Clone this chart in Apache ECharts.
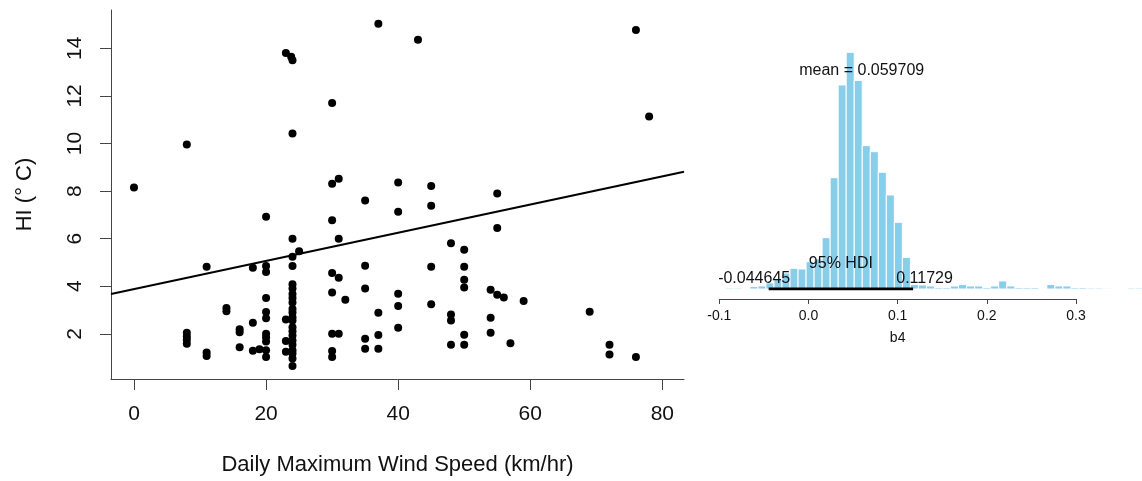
<!DOCTYPE html>
<html><head><meta charset="utf-8">
<script src="https://cdn.jsdelivr.net/npm/echarts@6.0.0/dist/echarts.min.js"></script>
<style>html,body{margin:0;padding:0;background:#fff}#c{width:1142px;height:481px}</style>
</head><body><div id="c"></div>
<script>
// ---- Left panel: HI vs daily maximum wind speed ----
const windSpeed = [37,23,23.8,24,30,24,8,0,30,31,40,35,43,76,78,45,55,40,20,30,24,31,25,24,11,18,20,20,24,30,31,35,35,40,40,40,30,32,37,30,31,35,37,35,37,30,30,20,20,20,20,20,20,20,20,18,18,19,16,16,16,14,14,8,8,8,8,11,11,24,24,24,24,24,24,24,24,24,24,24,24,24,24,24,24,24,24,23,23,23,45,55,48,50,45,50,50,50,54,55,56,59,45,48,48,54,54,50,48,50,57,69,72,72,76];
const hiValues = [15.03,13.8,13.64,13.5,11.7,10.42,9.96,8.15,8.31,8.52,8.36,7.6,14.36,14.77,11.13,8.21,7.9,7.13,6.92,6.77,6.0,6.0,5.47,5.24,4.82,4.78,4.85,4.6,4.85,4.56,4.36,4.86,3.9,3.68,3.17,2.25,3.74,3.43,2.88,2.0,2.0,1.79,1.95,1.37,1.37,1.28,1.02,3.5,2.92,2.65,2.0,1.86,1.68,1.31,1.02,2.46,1.29,1.35,2.19,2.06,1.43,3.08,2.95,2.04,1.89,1.75,1.58,1.21,1.07,4.08,3.9,3.67,3.5,3.32,3.04,2.9,2.7,2.56,2.28,2.11,1.93,1.72,1.54,1.31,1.17,0.96,0.65,2.6,1.7,1.25,7.38,6.45,5.81,5.53,4.82,4.82,4.27,3.95,3.85,3.64,3.53,3.38,3.24,2.81,2.56,2.67,2.04,1.96,1.54,1.54,1.6,2.93,1.54,1.13,1.02];
const fitLineX = [-3.48, 83.28];
const fitLineY = [3.67, 8.81];
const xTicks = [0, 20, 40, 60, 80];
const yTicks = [2, 4, 6, 8, 10, 12, 14];

// ---- Right panel: posterior of b4 ----
const b4BinStart = -0.0927;
const b4BinWidth = 0.009;
const b4Density = [0.07,0.07,0,0.17,0.21,0.42,0.70,1.11,1.44,1.39,1.90,2.09,3.57,7.74,14.19,16.46,14.51,9.97,9.55,8.12,6.54,4.64,2.20,0.31,0.28,0.21,0.10,0.10,0.21,0.31,0.21,0.21,0.10,0.21,0.56,0.21,0.10,0.10,0.10,0,0.31,0.21,0.21,0.10,0.10,0.07,0.07,0.05,0,0,0.07,0.07];
const b4Ticks = [-0.1, 0, 0.1, 0.2, 0.3];
const b4Mean = 0.059709;
const b4HdiLow = -0.044645;
const b4HdiHigh = 0.11729;

const FONT = 'Liberation Sans, Arial, sans-serif';
const TXT = '#111';

const scatterData = windSpeed.map((x, i) => [x, hiValues[i]]);
const fitData = fitLineX.map((x, i) => [x, fitLineY[i]]);
const histData = b4Density.map((d, k) => [b4BinStart + k * b4BinWidth, b4BinStart + (k + 1) * b4BinWidth, d]);

const chart = echarts.init(document.getElementById('c'), null, {renderer: 'canvas'});
chart.setOption({
  animation: false,
  backgroundColor: '#fff',
  textStyle: {fontFamily: FONT},
  grid: [
    {left: 111, top: 10, width: 573, height: 372},
    {left: 719.3, top: 30.2, width: 356.7, height: 258.8}
  ],
  xAxis: [
    {
      gridIndex: 0, type: 'value', min: -3.48, max: 83.28,
      axisLine: {show: true, onZero: false, lineStyle: {color: '#444', width: 1}},
      axisTick: {show: true, length: 11, customValues: xTicks, lineStyle: {color: '#444'}},
      axisLabel: {customValues: xTicks, fontSize: 21, margin: 25, color: TXT, fontFamily: FONT},
      splitLine: {show: false},
      name: 'Daily Maximum Wind Speed (km/hr)', nameLocation: 'middle', nameGap: 75,
      nameTextStyle: {fontSize: 22, color: TXT, fontFamily: FONT}
    },
    {
      gridIndex: 1, type: 'value', min: -0.1, max: 0.3, interval: 0.1, offset: 10,
      axisLine: {show: true, onZero: false, lineStyle: {color: '#444', width: 1}},
      axisTick: {show: true, length: 5, lineStyle: {color: '#444'}},
      axisLabel: {fontSize: 14, margin: 10, color: TXT, fontFamily: FONT,
        formatter: v => (Math.abs(v) < 1e-9 ? 0 : v).toFixed(1)},
      splitLine: {show: false},
      name: 'b4', nameLocation: 'middle', nameGap: 32,
      nameTextStyle: {fontSize: 14, color: TXT, fontFamily: FONT}
    }
  ],
  yAxis: [
    {
      gridIndex: 0, type: 'value', min: 0.1, max: 15.61,
      axisLine: {show: true, onZero: false, lineStyle: {color: '#444', width: 1}},
      axisTick: {show: true, length: 11, customValues: yTicks, lineStyle: {color: '#444'}},
      axisLabel: {customValues: yTicks, rotate: 90, fontSize: 21, margin: 25, color: TXT, fontFamily: FONT},
      splitLine: {show: false},
      name: 'HI (\u00B0 C)', nameLocation: 'middle', nameGap: 75,
      nameTextStyle: {fontSize: 22, color: TXT, fontFamily: FONT}
    },
    {gridIndex: 1, type: 'value', min: 0, max: 18, show: false}
  ],
  series: [
    {
      type: 'scatter', xAxisIndex: 0, yAxisIndex: 0, data: scatterData,
      symbol: 'circle', symbolSize: 8, itemStyle: {color: '#000', opacity: 1}, z: 3
    },
    {
      type: 'line', xAxisIndex: 0, yAxisIndex: 0, data: fitData,
      symbol: 'none', lineStyle: {color: '#000', width: 2}, z: 2
    },
    {
      type: 'custom', xAxisIndex: 1, yAxisIndex: 1, data: histData, clip: false, z: 2,
      renderItem: (params, api) => {
        const p0 = api.coord([api.value(0), 0]);
        const p1 = api.coord([api.value(1), api.value(2)]);
        return {
          type: 'rect',
          shape: {x: p0[0], y: p1[1], width: p1[0] - p0[0], height: p0[1] - p1[1]},
          style: {fill: '#87CEEB', stroke: '#fff', lineWidth: 1}
        };
      }
    },
    {
      type: 'line', xAxisIndex: 1, yAxisIndex: 1,
      data: [[b4HdiLow, 0], [b4HdiHigh, 0]],
      symbol: 'none', lineStyle: {color: '#000', width: 3}, z: 4
    },
    {
      type: 'scatter', xAxisIndex: 1, yAxisIndex: 1, symbolSize: 0, z: 5, silent: true,
      itemStyle: {opacity: 1},
      label: {show: true, position: 'inside', fontSize: 16, color: TXT, fontFamily: FONT},
      data: [
        {value: [b4Mean, 15.18], label: {formatter: 'mean = ' + b4Mean}},
        {value: [(b4HdiLow + b4HdiHigh) / 2, 1.79], label: {formatter: '95% HDI'}},
        {value: [b4HdiLow, 0.74], label: {formatter: String(b4HdiLow), offset: [-14.5, 0]}},
        {value: [b4HdiHigh, 0.74], label: {formatter: String(b4HdiHigh), offset: [11.5, 0]}}
      ]
    }
  ]
});
</script>
</body></html>
